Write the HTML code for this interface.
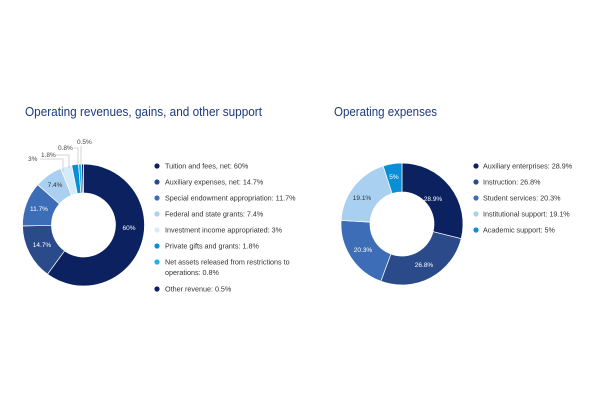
<!DOCTYPE html>
<html><head><meta charset="utf-8"><style>
html,body{margin:0;padding:0;background:#fff;width:600px;height:400px;overflow:hidden}
svg{display:block;font-family:"Liberation Sans",sans-serif}
</style></head><body>
<svg id="s" width="600" height="400" viewBox="0 0 600 400" xmlns="http://www.w3.org/2000/svg">
<text x="25" y="116" font-size="13" fill="#1b3a7c" textLength="237" lengthAdjust="spacingAndGlyphs">Operating revenues, gains, and other support</text>
<text x="334" y="116" font-size="13" fill="#1b3a7c" textLength="103" lengthAdjust="spacingAndGlyphs">Operating expenses</text>
<g id="p1"></g><g id="p2"></g>
<g stroke="#c8c8c8" stroke-width="0.8" fill="none">
<polyline points="40,159 63,159 63,172"/>
<polyline points="56,155 69,155 69,168"/>
<polyline points="74,148 78,148 78,165"/>
<polyline points="81,146 81,165"/>
</g>
<g font-size="6.5" fill="#444">
<text x="28" y="161">3%</text>
<text x="41" y="157">1.8%</text>
<text x="58" y="150">0.8%</text>
<text x="77" y="144">0.5%</text>
</g>
<g font-size="6.5" text-anchor="middle">
<text x="129" y="230" fill="#fff">60%</text>
<text x="42" y="247" fill="#fff">14.7%</text>
<text x="39" y="211" fill="#fff">11.7%</text>
<text x="55" y="187" fill="#333">7.4%</text>
<text x="433" y="201" fill="#fff">28.9%</text>
<text x="424" y="267" fill="#fff">26.8%</text>
<text x="363" y="252" fill="#fff">20.3%</text>
<text x="362" y="200" fill="#333">19.1%</text>
<text x="394" y="179" fill="#fff">5%</text>
</g>
<g font-size="7.2" fill="#333">
<circle cx="157" cy="166" r="2.6" fill="#0b2160"/><text x="165" y="168.5">Tuition and fees, net: 60%</text>
<circle cx="157" cy="182" r="2.6" fill="#2b4a8a"/><text x="165" y="184.5">Auxiliary expenses, net: 14.7%</text>
<circle cx="157" cy="198" r="2.6" fill="#3d6db6"/><text x="165" y="200.5">Special endowment appropriation: 11.7%</text>
<circle cx="157" cy="214" r="2.6" fill="#a9d0f1"/><text x="165" y="216.5">Federal and state grants: 7.4%</text>
<circle cx="157" cy="230" r="2.6" fill="#d6ebf9"/><text x="165" y="232.5">Investment income appropriated: 3%</text>
<circle cx="157" cy="246" r="2.6" fill="#0a8fd6"/><text x="165" y="248.5">Private gifts and grants: 1.8%</text>
<circle cx="157" cy="262" r="2.6" fill="#1ab3ea"/><text x="165" y="264.5">Net assets released from restrictions to</text><text x="165" y="275">operations: 0.8%</text>
<circle cx="157" cy="289" r="2.6" fill="#0b2160"/><text x="165" y="291.5">Other revenue: 0.5%</text>
<circle cx="476" cy="166" r="2.6" fill="#0b2160"/><text x="483" y="168.5">Auxiliary enterprises: 28.9%</text>
<circle cx="476" cy="182" r="2.6" fill="#2b4a8a"/><text x="483" y="184.5">Instruction: 26.8%</text>
<circle cx="476" cy="198" r="2.6" fill="#3d6db6"/><text x="483" y="200.5">Student services: 20.3%</text>
<circle cx="476" cy="214" r="2.6" fill="#a9d0f1"/><text x="483" y="216.5">Institutional support: 19.1%</text>
<circle cx="476" cy="230" r="2.6" fill="#0a8fd6"/><text x="483" y="232.5">Academic support: 5%</text>
</g>
</svg>
<script>
function donut(id,cx,cy,R,r,vals,cols){
 var g=document.getElementById(id),a=0,tot=vals.reduce(function(x,y){return x+y},0),h='';
 vals.forEach(function(v,i){
  var a0=a/tot*2*Math.PI,a1=(a+v)/tot*2*Math.PI;a+=v;
  var L=(a1-a0)>Math.PI?1:0;
  function p(rr,t){return (cx+rr*Math.sin(t)).toFixed(2)+','+(cy-rr*Math.cos(t)).toFixed(2)}
  h+='<path d="M'+p(R,a0)+' A'+R+','+R+' 0 '+L+' 1 '+p(R,a1)+' L'+p(r,a1)+' A'+r+','+r+' 0 '+L+' 0 '+p(r,a0)+' Z" fill="'+cols[i]+'" stroke="#fff" stroke-width="0.7"/>';
 });
 g.innerHTML=h;
}
donut('p1',83.5,225,61,32,[60,14.7,11.7,7.4,3,1.8,0.8,0.5],['#0b2160','#2b4a8a','#3d6db6','#a9d0f1','#d6ebf9','#0a8fd6','#1ab3ea','#0b2160']);
donut('p2',402,224,61,32,[28.9,26.8,20.3,19.1,5],['#0b2160','#2b4a8a','#3d6db6','#a9d0f1','#0a8fd6']);
</script>
</body></html>
